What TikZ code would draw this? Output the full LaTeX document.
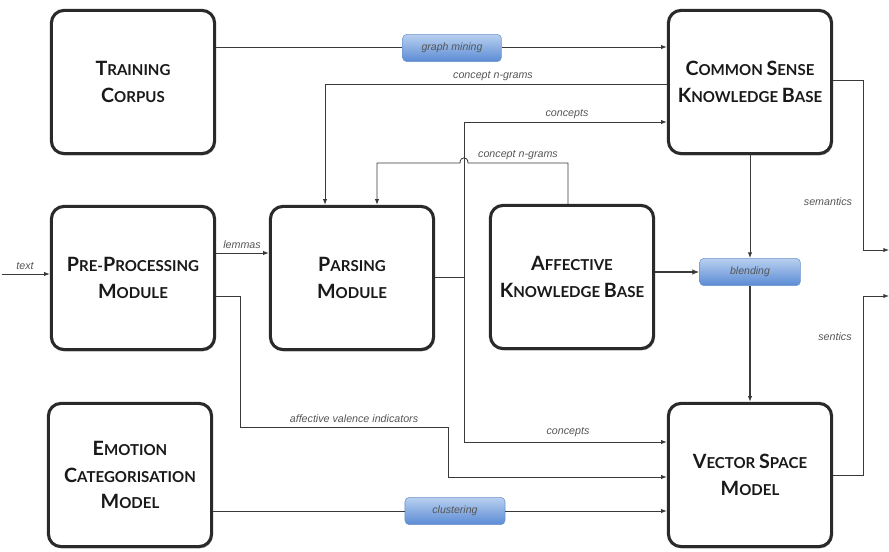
\documentclass[tikz,border=0pt]{standalone}
\usepackage{fontspec}
\setmainfont{Liberation Sans}
\newfontfamily\boxfont{Lato}
\usetikzlibrary{arrows.meta,shadows,calc}
\definecolor{boxc}{HTML}{2A2A2A}
\definecolor{linec}{HTML}{3A3A3A}
\definecolor{labc}{HTML}{555555}
\definecolor{pilltop}{HTML}{B9D0F0}
\definecolor{pillbot}{HTML}{5A8BD4}
\definecolor{pillbd}{HTML}{6F95CC}
\newcommand\bigc[1]{{\fontsize{14}{19}\selectfont #1}}
\tikzset{
  bigbox/.style={draw=boxc, line width=2.2pt, rounded corners=9pt, fill=white,
    minimum width=4.08cm, minimum height=3.58cm, align=center, inner sep=2pt,
    font=\boxfont\bfseries\fontsize{10.7}{19}\selectfont, text=black!90,
    drop shadow={shadow xshift=0.8pt, shadow yshift=-1.2pt, opacity=0.35, fill=black}},
  pill/.style={rounded corners=3pt, top color=pilltop, bottom color=pillbot, draw=pillbd,
    line width=0.4pt, minimum height=0.68cm, inner sep=1pt,
    font=\itshape\fontsize{7.5}{9}\selectfont, text=labc},
  line/.style={draw=linec, line width=0.6pt},
  conn/.style={line, -{Latex[length=4pt,width=3pt]}},
  lab/.style={font=\itshape\fontsize{7.6}{8}\selectfont, text=labc, inner sep=1pt}
}
\begin{document}
\begin{tikzpicture}[x=0.025cm, y=-0.025cm]
\useasboundingbox[fill=white] (0,0) rectangle (889,552);
% boxes
\node[bigbox] (train) at (133,82) {\bigc{T}RAINING\\\bigc{C}ORPUS};
\node[bigbox] (cskb) at (750,82) {\bigc{C}OMMON \bigc{S}ENSE\\\bigc{K}NOWLEDGE \bigc{B}ASE};
\node[bigbox] (pre) at (133,278) {\bigc{P}RE-\bigc{P}ROCESSING\\\bigc{M}ODULE};
\node[bigbox] (pars) at (352,278) {\bigc{P}ARSING\\\bigc{M}ODULE};
\node[bigbox] (akb) at (572,277) {\bigc{A}FFECTIVE\\\bigc{K}NOWLEDGE \bigc{B}ASE};
\node[bigbox] (emo) at (130,475) {\bigc{E}MOTION\\\bigc{C}ATEGORISATION\\\bigc{M}ODEL};
\node[bigbox] (vsm) at (750,475) {\bigc{V}ECTOR \bigc{S}PACE\\\bigc{M}ODEL};
% pills
\node[pill, minimum width=2.47cm] (gm) at (452,48) {graph mining};
\node[pill, minimum width=2.52cm] (bl) at (750,272) {blending};
\node[pill, minimum width=2.5cm] (cl) at (455,511) {clustering};
% free ends
\coordinate (tin) at (2,274);
\coordinate (junc) at (464,277);
\coordinate (semout) at (889,250);
\coordinate (senout) at (889,296);
% connectors
\draw[line] (train.east |- 0,47) -- (gm.west |- 0,47);
\draw[conn] (gm.east |- 0,47) -- (cskb.west |- 0,47);
\draw[conn] (cskb.west |- 0,84) -| (pars.north -| 325,0);
\draw[line] (pars.east |- junc) -- (junc);
\draw[conn] (junc) |- (cskb.west |- 0,122);
\draw[conn] (junc) |- (vsm.west |- 0,442);
\draw[conn] (akb.north -| 568,0) -- (568,163) -- (468,163)
  .. controls (468,156) and (460,156) .. (460,163) -- (377,163) -- (pars.north -| 377,0);
\draw[conn] (pre.east |- 0,253) -- (pars.west |- 0,253);
\draw[conn] (tin) -- (pre.west |- tin);
\draw[conn] (pre.east |- 0,296) -- (240,296) -- (240,427) -- (448,427) -- (448,477) -- (vsm.west |- 0,477);
\draw[conn, line width=1.4pt, -{Latex[length=5pt,width=4pt]}] (akb.east |- bl.west) -- (bl.west);
\draw[conn] (cskb.south) -- (bl.north);
\draw[conn, line width=0.9pt] (bl.south) -- (vsm.north);
\draw[line] (emo.east |- cl.west) -- (cl.west);
\draw[conn] (cl.east) -- (vsm.west |- cl.east);
\draw[conn] (cskb.east |- 0,80) -- (863,80) |- (semout);
\draw[conn] (vsm.east |- 0,475) -- (863,475) |- (senout);
% labels
\node[lab] (l1) at (493,76) {concept n-grams};
\node[lab] (l2) at (567,114) {concepts};
\node[lab] (l3) at (518,155) {concept n-grams};
\node[lab] (l4) at (242,245) {lemmas};
\node[lab] (l5) at (25,266) {text};
\node[lab] (l6) at (354,419) {affective valence indicators};
\node[lab] (l7) at (568,432) {concepts};
\node[lab] (l8) at (828,202) {semantics};
\node[lab] (l9) at (835,337) {sentics};
\end{tikzpicture}
\end{document}
